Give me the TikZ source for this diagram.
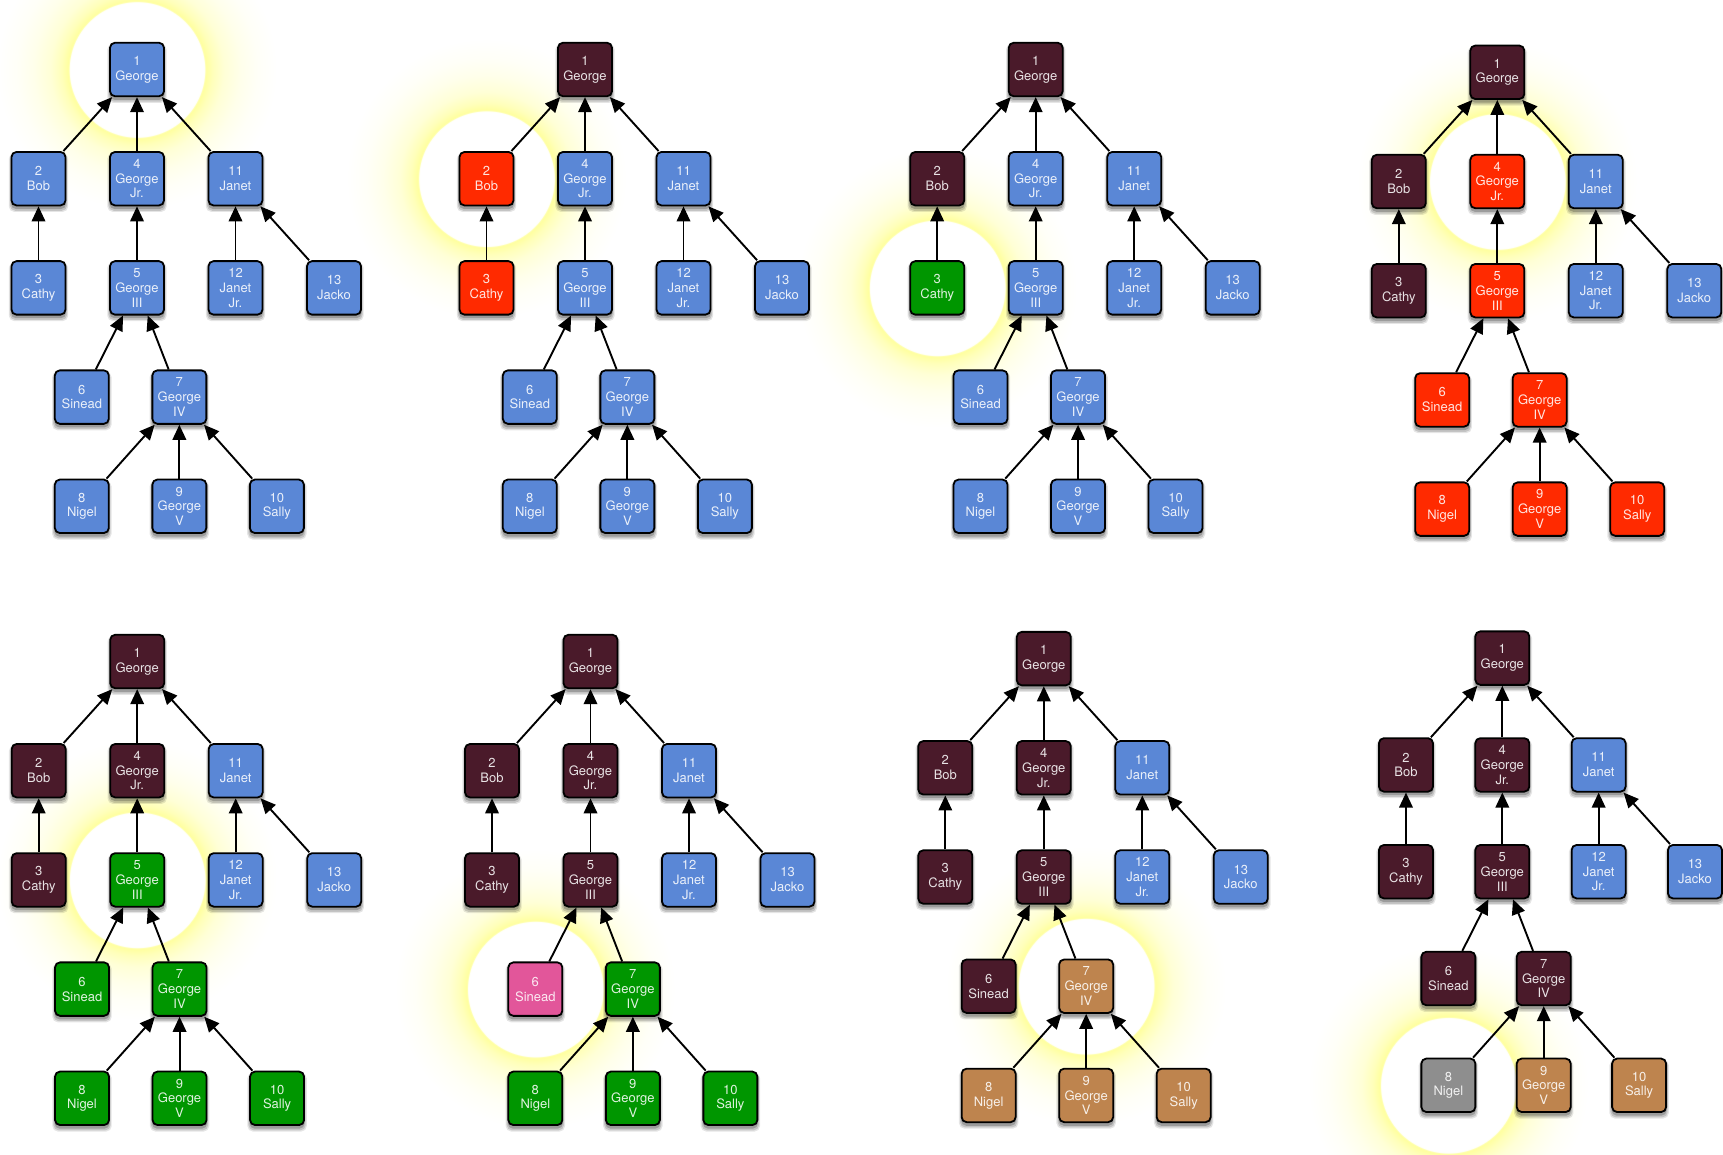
\documentclass[tikz,border=0pt]{standalone}
\usepackage{fontspec}
\setmainfont{TeX Gyre Heros}
\usetikzlibrary{arrows.meta,shadows}

\definecolor{nBlue}{RGB}{90,135,214}
\definecolor{nMaroon}{RGB}{74,26,42}
\definecolor{nRed}{RGB}{255,42,0}
\definecolor{nGreen}{RGB}{0,150,0}
\definecolor{nPink}{RGB}{226,86,154}
\definecolor{nTan}{RGB}{190,132,78}
\definecolor{nGray}{RGB}{142,142,142}

% white disc with a soft yellow rim; 25bp is the rim of the shaded circle
\pgfdeclareradialshading{halo}{\pgfpointorigin}{%
  color(0bp)=(white); color(12.0bp)=(white); color(12.25bp)=(yellow!38);
  color(13.5bp)=(yellow!27); color(15.5bp)=(yellow!16); color(18.5bp)=(yellow!8);
  color(21.5bp)=(yellow!3); color(25bp)=(white); color(50bp)=(white)}

\tikzset{
  person/.style={draw=black, line width=1.8pt, rounded corners=5pt,
    minimum width=54pt, minimum height=53.5pt, inner sep=0pt, align=center,
    text=white, text opacity=0.88, font=\fontsize{13pt}{14.8pt}\selectfont,
    general shadow={fill=black, opacity=0.10, shadow yshift=-3.5pt, shadow scale=1.10},
    general shadow={fill=black, opacity=0.14, shadow yshift=-3.5pt, shadow scale=1.06},
    general shadow={fill=black, opacity=0.20, shadow yshift=-3pt, shadow scale=1.02}},
  link/.style={line width=1.9pt, -{Triangle[length=15pt,width=13.5pt]}},
}

% halo behind one node: #1/#2 centre of node 1, #3 size factor, #4 node id
\newcommand\familyhalo[4]{%
  \pgfmathsetmacro\hpx{{0,-1,-1,0,0,-0.56,0.43,-0.56,0.43,1.42,1,1,2}[#4-1]}%
  \pgfmathsetmacro\hpy{{0,1,2,1,2,3,3,4,4,4,1,2,2}[#4-1]}%
  \pgfmathsetmacro\hx{#1+98.5*#3*\hpx}%
  \pgfmathsetmacro\hy{#2+109.2*#3*\hpy}%
  \shade[shading=halo] (\hx,\hy) circle[radius=140pt];}

% #1 name prefix, #2/#3 centre of node 1, #4 size factor,
% #5 fill colours of nodes 1..13
\newcommand\familytree[5]{%
  \foreach \c [count=\k] in {#5}{\expandafter\xdef\csname fam#1fill\k\endcsname{\c}}%
  \pgfmathsetlengthmacro\famdx{98.5pt*#4}%
  \pgfmathsetlengthmacro\famdy{-109.2pt*#4}%
  \begin{scope}[shift={(#2,#3)}, x=\famdx, y=\famdy]
    \foreach \i/\px/\py/\txt in {
        1/0/0/{1\\George},
        2/-1/1/{2\\Bob},
        4/0/1/{4\\George\\Jr.},
        11/1/1/{11\\Janet},
        3/-1/2/{3\\Cathy},
        5/0/2/{5\\George\\III},
        12/1/2/{12\\Janet\\Jr.},
        13/2/2/{13\\Jacko},
        6/-0.56/3/{6\\Sinead},
        7/0.43/3/{7\\George\\IV},
        8/-0.56/4/{8\\Nigel},
        9/0.43/4/{9\\George\\V},
        10/1.42/4/{10\\Sally}}{%
      \edef\thisfill{\csname fam#1fill\i\endcsname}%
      \node[person, fill=\thisfill] (#1\i) at (\px,\py) {\txt};}
    \foreach \c/\p in {2/1,4/1,11/1,3/2,5/4,12/11,13/11,6/5,7/5,8/7,9/7,10/7}
      {\draw[link] (#1\c) -- (#1\p);}
  \end{scope}}

\begin{document}
\begin{tikzpicture}[x=1pt, y=-1pt]
  \useasboundingbox (0,0) rectangle (1723,1155);
  \fill[white] (0,0) rectangle (1723,1155);

  % halos first, so that every tree lies on top of them
  \familyhalo{137}{69.5}{1}{1}
  \familyhalo{585}{69.5}{1}{2}
  \familyhalo{1035.7}{69.5}{1}{3}
  \familyhalo{1497.3}{72.3}{1}{4}
  \familyhalo{137.2}{661.5}{1}{5}
  \familyhalo{590.5}{661.5}{1}{6}
  \familyhalo{1043.8}{658.6}{1}{7}
  \familyhalo{1502.3}{658.1}{0.978}{8}

  \familytree{a}{137}{69.5}{1}{nBlue,nBlue,nBlue,nBlue,nBlue,nBlue,nBlue,nBlue,nBlue,nBlue,nBlue,nBlue,nBlue}
  \familytree{b}{585}{69.5}{1}{nMaroon,nRed,nRed,nBlue,nBlue,nBlue,nBlue,nBlue,nBlue,nBlue,nBlue,nBlue,nBlue}
  \familytree{c}{1035.7}{69.5}{1}{nMaroon,nMaroon,nGreen,nBlue,nBlue,nBlue,nBlue,nBlue,nBlue,nBlue,nBlue,nBlue,nBlue}
  \familytree{d}{1497.3}{72.3}{1}{nMaroon,nMaroon,nMaroon,nRed,nRed,nRed,nRed,nRed,nRed,nRed,nBlue,nBlue,nBlue}

  \familytree{e}{137.2}{661.5}{1}{nMaroon,nMaroon,nMaroon,nMaroon,nGreen,nGreen,nGreen,nGreen,nGreen,nGreen,nBlue,nBlue,nBlue}
  \familytree{f}{590.5}{661.5}{1}{nMaroon,nMaroon,nMaroon,nMaroon,nMaroon,nPink,nGreen,nGreen,nGreen,nGreen,nBlue,nBlue,nBlue}
  \familytree{g}{1043.8}{658.6}{1}{nMaroon,nMaroon,nMaroon,nMaroon,nMaroon,nMaroon,nTan,nTan,nTan,nTan,nBlue,nBlue,nBlue}
  \familytree{h}{1502.3}{658.1}{0.978}{nMaroon,nMaroon,nMaroon,nMaroon,nMaroon,nMaroon,nMaroon,nGray,nTan,nTan,nBlue,nBlue,nBlue}
\end{tikzpicture}
\end{document}
